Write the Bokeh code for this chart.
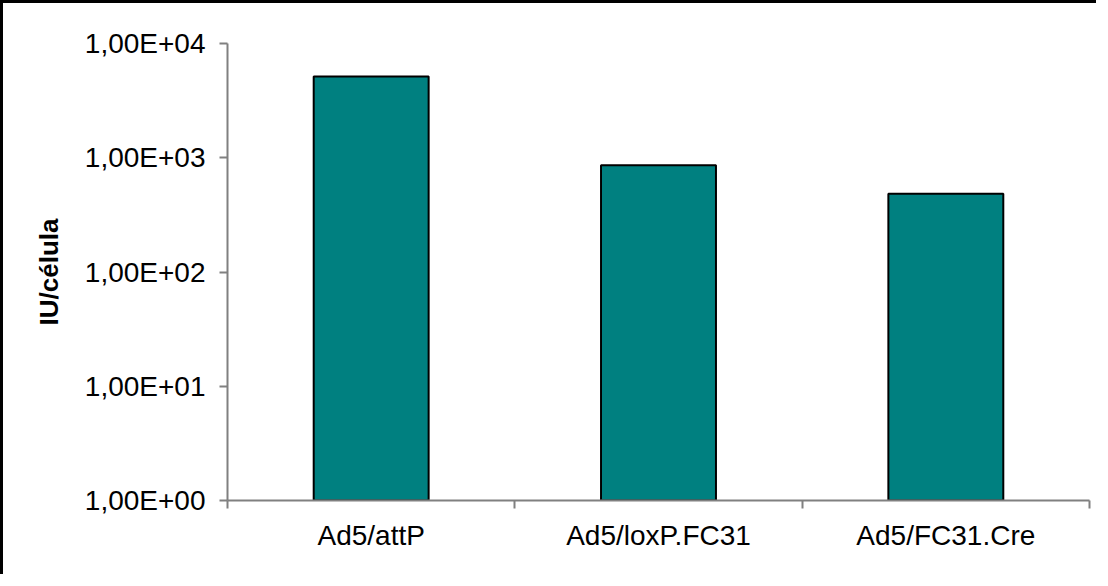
from bokeh.plotting import figure
from bokeh.models import FixedTicker, Range1d
from bokeh.embed import file_html
from bokeh.resources import INLINE

categories = ["Ad5/attP", "Ad5/loxP.FC31", "Ad5/FC31.Cre"]
values = [5150, 860, 485]
y_ticks = [1, 10, 100, 1000, 10000]
y_tick_labels = ["1,00E+00", "1,00E+01", "1,00E+02", "1,00E+03", "1,00E+04"]
y_title = "IU/célula"

FONT = "Liberation Sans"

p = figure(width=1096, height=574, y_axis_type="log",
           x_range=Range1d(0, len(categories)), y_range=Range1d(1, 10000),
           output_backend="svg", toolbar_location=None,
           min_border_left=224, min_border_right=10,
           min_border_top=40, min_border_bottom=77)

xs = [i + 0.5 for i in range(len(categories))]
p.vbar(x=xs, top=values, bottom=1, width=0.4,
       fill_color="#008080", line_color="black", line_width=2)

p.outline_line_color = None
p.xgrid.grid_line_color = None
p.ygrid.grid_line_color = None
p.background_fill_color = "white"
p.border_fill_color = "white"
p.styles = {"border-top": "3px solid black", "border-left": "3px solid black"}

# x axis
xa = p.xaxis[0]
xa.ticker = FixedTicker(ticks=xs, minor_ticks=list(range(len(categories) + 1)))
xa.major_label_overrides = {x: c for x, c in zip(xs, categories)}
xa.major_tick_out = 0
xa.major_tick_in = 0
xa.minor_tick_out = 8
xa.minor_tick_in = 0
xa.minor_tick_line_color = "#808080"
xa.axis_line_color = "#808080"
xa.axis_line_width = 2
xa.minor_tick_line_width = 2
xa.major_label_text_font = FONT
xa.major_label_text_font_size = "28px"
xa.major_label_text_color = "black"
xa.major_label_standoff = 11

# y axis
ya = p.yaxis[0]
ya.ticker = FixedTicker(ticks=y_ticks, minor_ticks=[])
ya.major_label_overrides = {t: l for t, l in zip(y_ticks, y_tick_labels)}
ya.major_tick_out = 8
ya.major_tick_in = 0
ya.major_tick_line_color = "#808080"
ya.major_tick_line_width = 2
ya.axis_line_color = "#808080"
ya.axis_line_width = 2
ya.major_label_text_font = FONT
ya.major_label_text_font_size = "28px"
ya.major_label_text_color = "black"
ya.major_label_standoff = 14
ya.axis_label = y_title
ya.axis_label_text_font = FONT
ya.axis_label_text_font_size = "26px"
ya.axis_label_text_font_style = "bold"
ya.axis_label_text_color = "black"
ya.axis_label_standoff = 18

open("out.html", "w").write(file_html(p, INLINE))
